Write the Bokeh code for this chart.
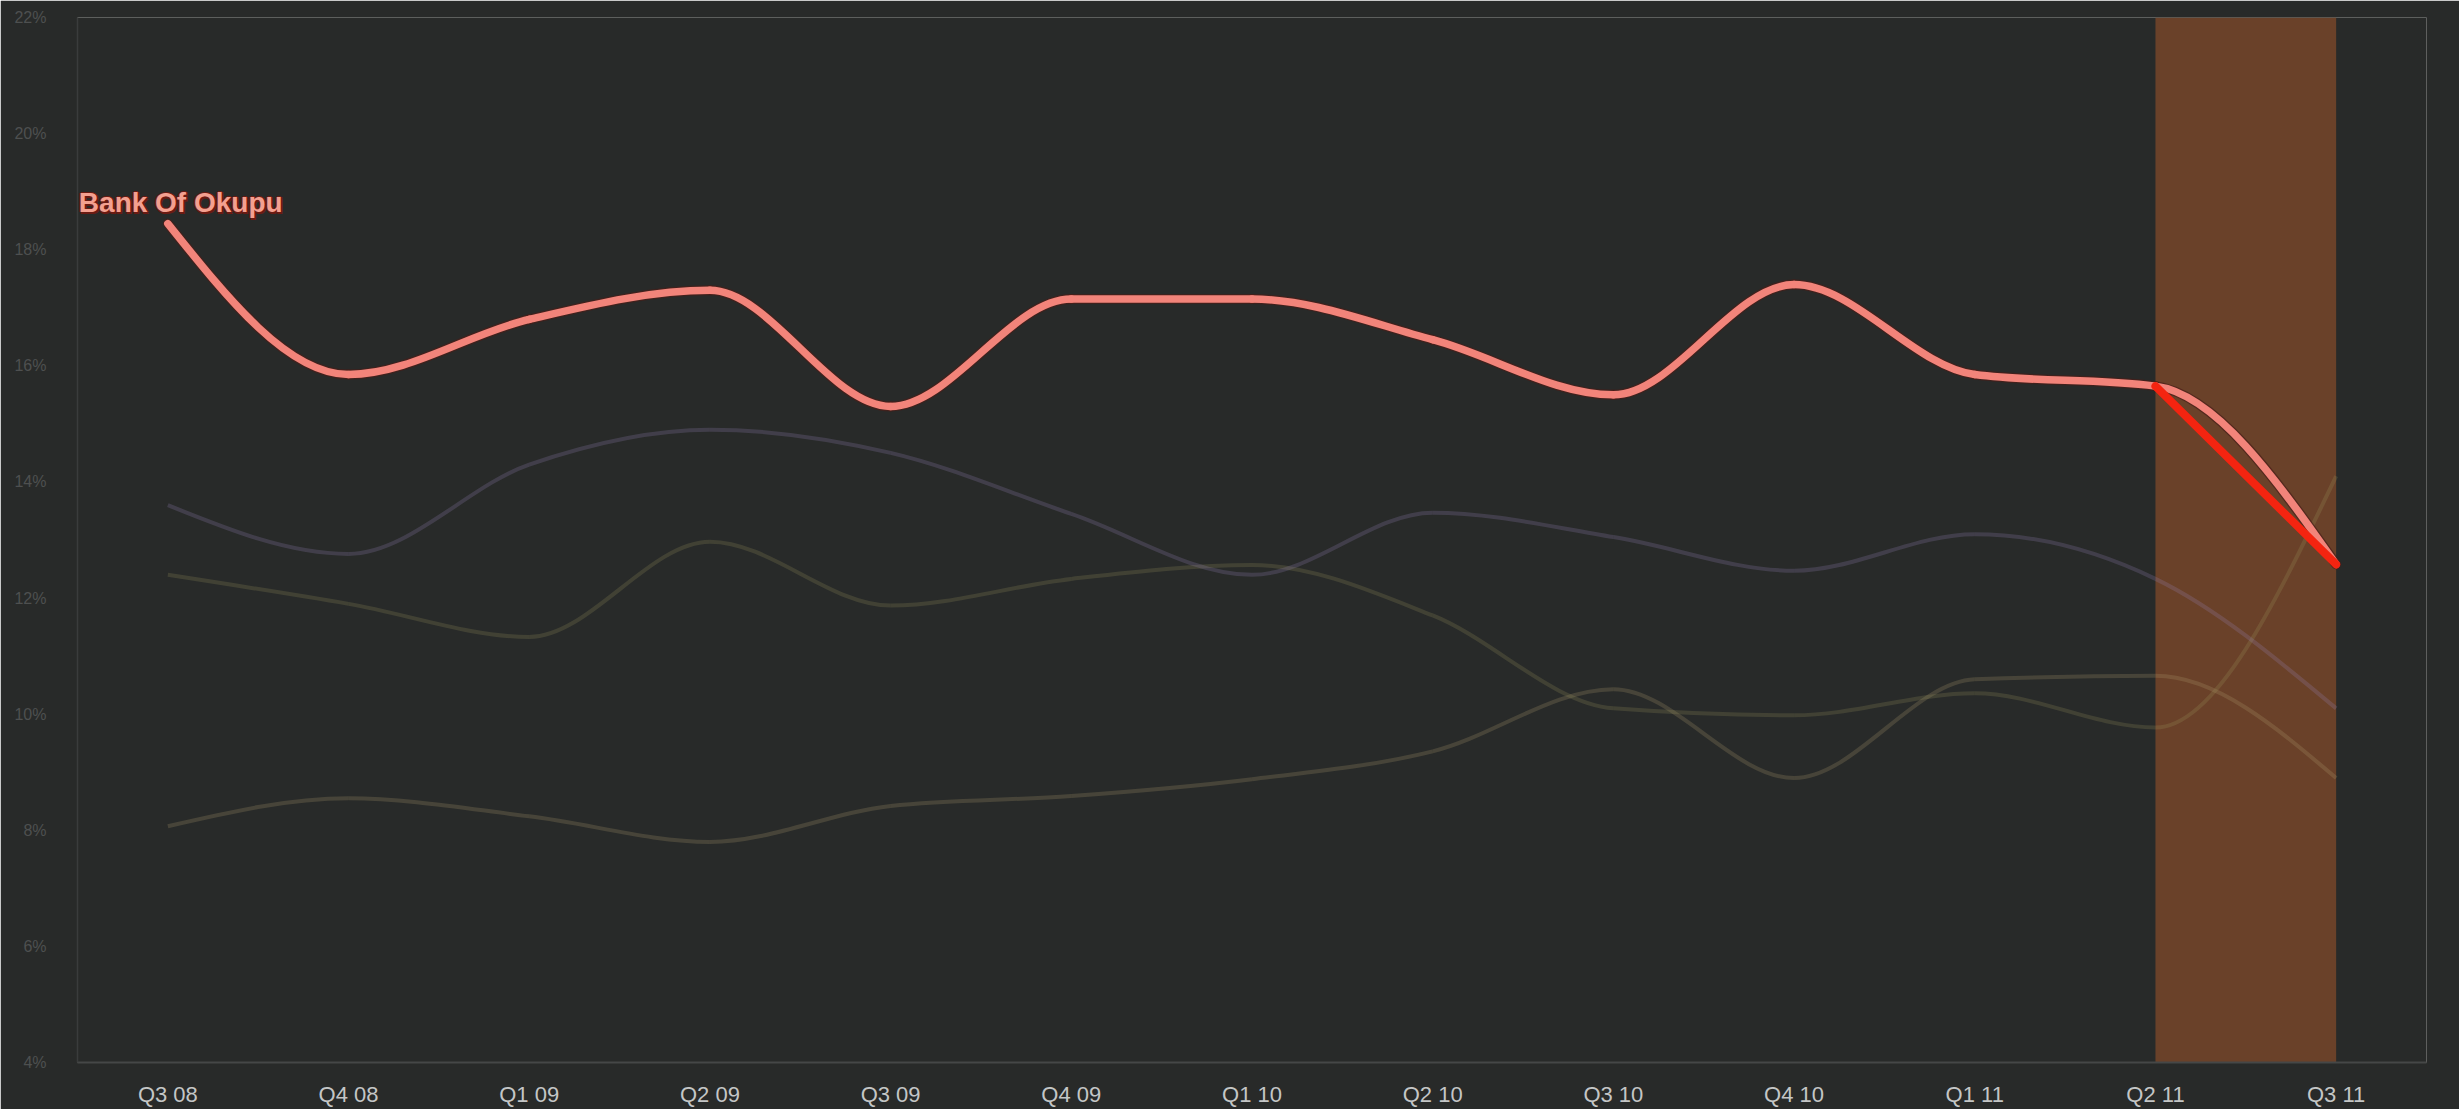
from bokeh.plotting import figure
from bokeh.models import BoxAnnotation, FixedTicker, Range1d
from bokeh.core.properties import value
from bokeh.embed import file_html
from bokeh.resources import INLINE

quarters = ["Q3 08", "Q4 08", "Q1 09", "Q2 09", "Q3 09", "Q4 09", "Q1 10",
            "Q2 10", "Q3 10", "Q4 10", "Q1 11", "Q2 11", "Q3 11"]
bank_okupu = [18.45, 15.85, 16.8, 17.3, 15.3, 17.15, 17.15, 16.45, 15.5, 17.4, 15.85, 15.65, 12.58]
peer_purple = [13.6, 12.76, 14.3, 14.9, 14.5, 13.45, 12.4, 13.47, 13.05, 12.47, 13.1, 12.33, 10.1]
peer_olive = [12.4, 11.9, 11.33, 12.97, 11.87, 12.33, 12.57, 11.7, 10.1, 9.98, 10.36, 9.77, 14.1]
peer_brown = [8.07, 8.55, 8.24, 7.8, 8.42, 8.59, 8.88, 9.36, 10.43, 8.9, 10.6, 10.66, 8.9]
y_ticks = [4, 6, 8, 10, 12, 14, 16, 18, 20, 22]
y_tick_labels = ["4%", "6%", "8%", "10%", "12%", "14%", "16%", "18%", "20%", "22%"]
highlight_start, highlight_end = "Q2 11", "Q3 11"
label_text = "Bank Of Okupu"

BG = "#282a29"


def sign(v):
    return (v > 0) - (v < 0)


def monotone_beziers(ys):
    """Bezier control points of a monotone-x cubic through (index, y)."""
    xs = list(range(len(ys)))
    n = len(xs)
    t = [0.0] * n
    for i in range(1, n - 1):
        h0 = xs[i] - xs[i - 1]
        h1 = xs[i + 1] - xs[i]
        s0 = (ys[i] - ys[i - 1]) / h0
        s1 = (ys[i + 1] - ys[i]) / h1
        pp = (s0 * h1 + s1 * h0) / (h0 + h1)
        t[i] = (sign(s0) + sign(s1)) * min(abs(s0), abs(s1), 0.5 * abs(pp))
    h = xs[1] - xs[0]
    t[0] = (3 * (ys[1] - ys[0]) / h - t[1]) / 2
    h = xs[-1] - xs[-2]
    t[-1] = (3 * (ys[-1] - ys[-2]) / h - t[-2]) / 2
    d = dict(x0=[], y0=[], x1=[], y1=[], cx0=[], cy0=[], cx1=[], cy1=[])
    for i in range(n - 1):
        dx = (xs[i + 1] - xs[i]) / 3
        d["x0"].append(xs[i]); d["y0"].append(ys[i])
        d["x1"].append(xs[i + 1]); d["y1"].append(ys[i + 1])
        d["cx0"].append(xs[i] + dx); d["cy0"].append(ys[i] + dx * t[i])
        d["cx1"].append(xs[i + 1] - dx); d["cy1"].append(ys[i + 1] - dx * t[i + 1])
    return d


p = figure(width=2459, height=1109, output_backend="svg", toolbar_location=None,
           x_range=Range1d(-0.5, len(quarters) - 0.5), y_range=Range1d(4, 22),
           background_fill_color=BG, border_fill_color=BG,
           min_border_left=77, min_border_right=33, min_border_top=17, min_border_bottom=44)
p.outline_line_color = None
p.outline_line_alpha = 0
p.outline_line_width = 0
p.grid.visible = False

# highlight band
i0, i1 = quarters.index(highlight_start), quarters.index(highlight_end)
p.add_layout(BoxAnnotation(left=i0, right=i1, fill_color="#6a4129", fill_alpha=1.0,
                           line_color=None, level="underlay"))

# peer lines
for series, col, alpha in [(peer_brown, "#b4a474", 0.22),
                           (peer_olive, "#a4a064", 0.2),
                           (peer_purple, "#9a88c0", 0.22)]:
    p.bezier(source=monotone_beziers(series), x0="x0", y0="y0", x1="x1", y1="y1",
             cx0="cx0", cy0="cy0", cx1="cx1", cy1="cy1",
             line_color=col, line_alpha=alpha, line_width=4, line_cap="butt")

# main series with dark halo
bz = monotone_beziers(bank_okupu)
p.bezier(source=bz, x0="x0", y0="y0", x1="x1", y1="y1", cx0="cx0", cy0="cy0",
         cx1="cx1", cy1="cy1", line_color="#4a1e18", line_alpha=0.7, line_width=10,
         line_cap="round")
p.bezier(source=bz, x0="x0", y0="y0", x1="x1", y1="y1", cx0="cx0", cy0="cy0",
         cx1="cx1", cy1="cy1", line_color="#f2847a", line_width=7.5, line_cap="round")

# straight red segment over the highlighted quarter
p.line(x=[i0, i1], y=[bank_okupu[i0], bank_okupu[i1]], line_color="#f42410",
       line_width=8, line_cap="round")

# label
for dx, dy in [(-1.5, 0), (1.5, 0), (0, -1.5), (0, 1.5), (1.5, 1.5)]:
    p.text(x=[0], y=[bank_okupu[0]], text=[label_text], text_font=value("Liberation Sans"),
           text_font_style="bold", text_font_size="28px", text_color="#6a1a12",
           text_baseline="alphabetic", text_align="left", x_offset=-89 + dx, y_offset=-21 + dy)
p.text(x=[0], y=[bank_okupu[0]], text=[label_text], text_font=value("Liberation Sans"),
       text_font_style="bold", text_font_size="28px", text_color="#f3a090",
       text_baseline="alphabetic", text_align="left", x_offset=-89, y_offset=-21)

# axes
p.xaxis.ticker = FixedTicker(ticks=list(range(len(quarters))))
p.xaxis.major_label_overrides = {i: q for i, q in enumerate(quarters)}
p.xaxis.major_label_text_font = "'Liberation Sans Narrow', 'Liberation Sans'"
p.xaxis.major_label_text_font_size = "22px"
p.xaxis.major_label_text_color = "#c4c6c6"
p.xaxis.major_label_standoff = 13
p.xaxis.major_tick_line_color = None
p.xaxis.minor_tick_line_color = None
p.xaxis.axis_line_color = "#454747"
p.xaxis.axis_line_width = 2

p.yaxis.ticker = FixedTicker(ticks=y_ticks)
p.yaxis.major_label_overrides = {t: l for t, l in zip(y_ticks, y_tick_labels)}
p.yaxis.major_label_text_font = "'Liberation Sans Narrow', 'Liberation Sans'"
p.yaxis.major_label_text_font_size = "16px"
p.yaxis.major_label_text_color = "#4e5050"
p.yaxis.major_label_standoff = 25
p.yaxis.major_tick_line_color = None
p.yaxis.minor_tick_line_color = None
p.yaxis.axis_line_color = "#3a3c3c"
p.yaxis.axis_line_width = 1.5

open("out.html", "w").write(file_html(p, INLINE))
